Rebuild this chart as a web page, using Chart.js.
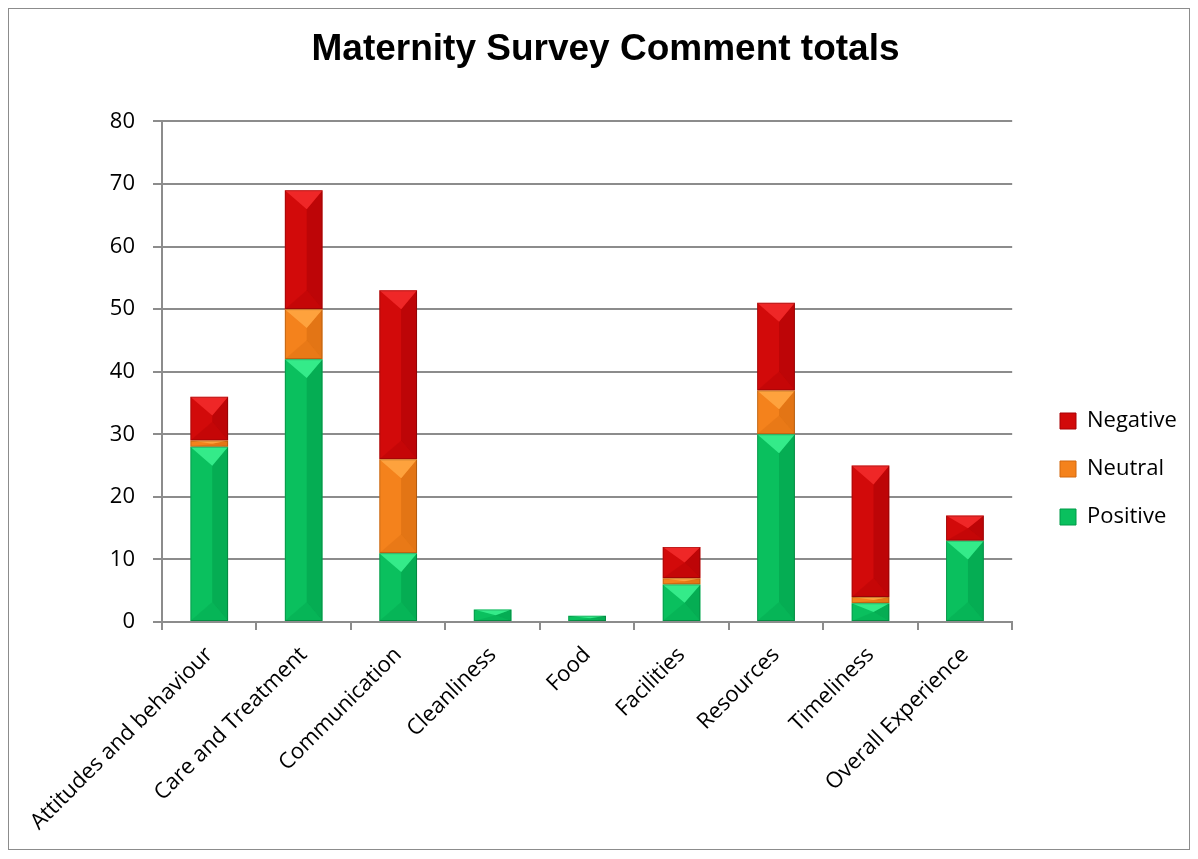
<!DOCTYPE html>
<html>
<head>
<meta charset="utf-8">
<script src="https://cdn.jsdelivr.net/npm/chart.js@4"></script>
<style>
  html, body { margin: 0; padding: 0; background: #fff; }
  #wrap { position: absolute; left: 0; top: 0; width: 1198px; height: 859px; }
  #frame { position: absolute; left: 8px; top: 8px; width: 1180px; height: 840px; border: 1px solid #8c8c8c; pointer-events: none; }
</style>
</head>
<body>
<div id="wrap"><canvas id="myChart" width="1198" height="859"></canvas></div>
<div id="frame"></div>
<script>
// chart data
const categories = ['Attitudes and behaviour', 'Care and Treatment', 'Communication', 'Cleanliness',
    'Food', 'Facilities', 'Resources', 'Timeliness', 'Overall Experience'];
const positive = [28, 42, 11, 2, 1, 6, 30, 3, 13];
const neutral = [1, 8, 15, 0, 0, 1, 7, 1, 0];
const negative = [7, 19, 27, 0, 0, 5, 14, 21, 4];
const yTicks = [0, 10, 20, 30, 40, 50, 60, 70, 80];

const FONT = "'Open Sans', 'Liberation Sans', sans-serif";

// base, light (top), dark (right / bottom)
const shades = {
    Positive: ['#0ac05e', '#38f08e', '#009a48'],
    Neutral: ['#f4821c', '#ffa541', '#d2680e'],
    Negative: ['#d20a0a', '#f22a2a', '#a80004']
};

// draws the bevelled look on top of each bar segment
const bevelPlugin = {
    id: 'bevel',
    afterDatasetsDraw(chart) {
        const ctx = chart.ctx;
        chart.data.datasets.forEach((ds, i) => {
            const meta = chart.getDatasetMeta(i);
            const s = shades[ds.label];
            meta.data.forEach(bar => {
                const p = bar.getProps(['x', 'y', 'base', 'width']);
                const h = p.base - p.y;
                if (h < 0.5) return;
                const l = p.x - p.width / 2, r = p.x + p.width / 2;
                const t = p.y, b = p.base;
                const d = Math.min(p.width / 2, h / 2);
                const mx = p.x + p.width * 0.08;
                ctx.save();
                ctx.beginPath();
                ctx.rect(l, t, p.width, h);
                ctx.clip();
                // right side darker
                ctx.fillStyle = s[2];
                ctx.globalAlpha = 0.5;
                ctx.beginPath();
                ctx.moveTo(mx, t + d); ctx.lineTo(r, t); ctx.lineTo(r, b); ctx.lineTo(mx, b - d);
                ctx.closePath(); ctx.fill();
                // top triangle lighter
                ctx.globalAlpha = 0.9;
                ctx.fillStyle = s[1];
                ctx.beginPath();
                ctx.moveTo(l, t); ctx.lineTo(r, t); ctx.lineTo(mx, t + d);
                ctx.closePath(); ctx.fill();
                // bottom triangle darker
                ctx.globalAlpha = 0.3;
                ctx.fillStyle = s[2];
                ctx.beginPath();
                ctx.moveTo(l, b); ctx.lineTo(r, b); ctx.lineTo(mx, b - d);
                ctx.closePath(); ctx.fill();
                ctx.globalAlpha = 1;
                ctx.strokeStyle = 'rgba(0,0,0,0.22)';
                ctx.lineWidth = 1;
                ctx.strokeRect(l + 0.5, t + 0.5, p.width - 1, h - 1);
                ctx.restore();
            });
        });
    }
};

// move the legend block and title to where they sit in the original
const placeBoxes = {
    id: 'placeBoxes',
    afterLayout(chart) {
        const lg = chart.legend;
        const dx = 1034 - lg.left;
        const dy = 469 - (lg.top + lg.bottom) / 2;
        lg.left += dx; lg.right += dx;
        lg.top += dy; lg.bottom += dy;
        const tb = chart.titleBlock;
        tb.left += 23; tb.right += 23;
    }
};

const ctx = document.getElementById('myChart').getContext('2d');
new Chart(ctx, {
    type: 'bar',
    data: {
        labels: categories,
        datasets: [
            { label: 'Positive', data: positive, backgroundColor: shades.Positive[0] },
            { label: 'Neutral', data: neutral, backgroundColor: shades.Neutral[0] },
            { label: 'Negative', data: negative, backgroundColor: shades.Negative[0] }
        ]
    },
    options: {
        responsive: false,
        animation: false,
        layout: { padding: { left: 0, right: 33, top: 28, bottom: 0 } },
        datasets: { bar: { barPercentage: 0.4, categoryPercentage: 1, borderWidth: 0 } },
        plugins: {
            title: {
                display: true,
                text: 'Maternity Survey Comment totals',
                color: '#000',
                font: { family: "'Liberation Sans', Arial, sans-serif", size: 37, weight: 'bold' },
                padding: { top: 0, bottom: 49 }
            },
            legend: {
                position: 'right',
                reverse: true,
                labels: {
                    color: '#000',
                    font: { family: FONT, size: 22 },
                    boxWidth: 16,
                    boxHeight: 16,
                    padding: 26,
                    generateLabels(chart) {
                        return chart.data.datasets.map((ds, i) => ({
                            text: ds.label,
                            fillStyle: ds.backgroundColor,
                            strokeStyle: shades[ds.label][2],
                            lineWidth: 1,
                            datasetIndex: i
                        }));
                    }
                }
            },
            tooltip: { enabled: false }
        },
        scales: {
            x: {
                stacked: true,
                afterFit(scale) { scale.height = 237; },
                grid: { display: true, drawOnChartArea: false, offset: true, color: '#8c8c8c', lineWidth: 2, tickLength: 8 },
                border: { color: '#8c8c8c', width: 2 },
                ticks: {
                    color: '#000',
                    font: { family: FONT, size: 22 },
                    maxRotation: 45,
                    minRotation: 45,
                    padding: 12
                }
            },
            y: {
                stacked: true,
                min: 0,
                max: 80,
                afterBuildTicks(scale) {
                    scale.ticks = yTicks.map(v => ({ value: v }));
                },
                afterFit(scale) { scale.width = 162; },
                grid: { color: '#8c8c8c', lineWidth: 2, tickLength: 9 },
                border: { color: '#8c8c8c', width: 2 },
                ticks: {
                    color: '#000',
                    font: { family: FONT, size: 22 },
                    padding: 18
                }
            }
        }
    },
    plugins: [bevelPlugin, placeBoxes]
});
</script>
</body>
</html>
